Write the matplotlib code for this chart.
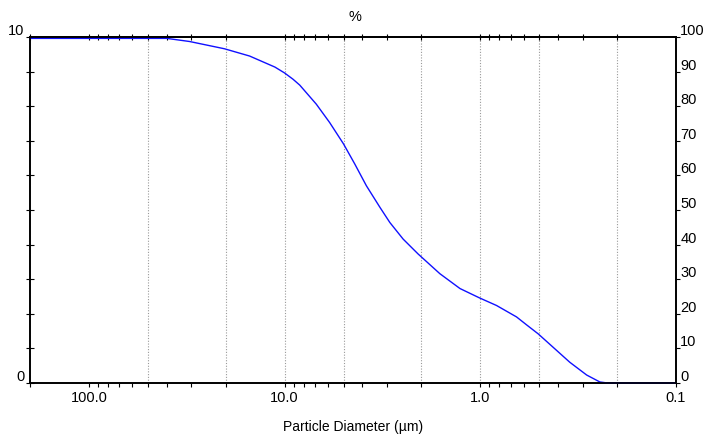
import matplotlib
matplotlib.use("Agg")
import matplotlib.pyplot as plt
from matplotlib.ticker import FixedLocator, FixedFormatter, NullFormatter

plt.rcParams['font.family'] = ['Liberation Sans', 'DejaVu Sans']

# Data: particle diameter (um) vs cumulative undersize (%)
diameter = [200, 40, 30.6, 20.3, 15.1, 11.2, 10.0, 9.06, 8.37, 6.89, 5.89,
            5.0, 4.38, 3.82, 3.26, 2.90, 2.48, 2.08, 1.61, 1.27,
            1.01, 0.826, 0.653, 0.580, 0.506, 0.424, 0.349, 0.286, 0.245, 0.224, 0.1]
cumulative = [99.6, 99.6, 98.7, 96.6, 94.5, 91.3, 89.6, 87.8, 86.1, 80.6, 75.3,
              69.1, 63.3, 57.0, 50.8, 46.4, 41.6, 37.3, 31.6, 27.3,
              24.6, 22.4, 19.1, 16.8, 14.2, 10.3, 6.0, 2.3, 0.3, 0.0, 0.0]

x_major = [100, 10, 1, 0.1]
x_major_labels = ['100.0', '10.0', '1.0', '0.1']
grid_x = [50, 20, 10, 5, 2, 1, 0.5, 0.2]
left_ticks = list(range(0, 11))
right_ticks = list(range(0, 101, 10))

fig = plt.figure(figsize=(7.08, 4.39), dpi=100)
ax = fig.add_axes([30/708, 1-384/439, (676-30)/708, (384-38)/439])
ax.set_xscale('log')
ax.set_xlim(200, 0.1)
ax.set_ylim(0, 10)

for g in grid_x:
    ax.axvline(g, color='#9a9a9a', linestyle=(0, (1, 1.5)), linewidth=0.8, zorder=0)

minor = []
for dec in [0.1, 1, 10, 100]:
    for m in range(2, 10):
        v = dec * m
        if v <= 200:
            minor.append(v)

ax.xaxis.set_major_locator(FixedLocator(x_major))
ax.xaxis.set_major_formatter(FixedFormatter(x_major_labels))
ax.xaxis.set_minor_locator(FixedLocator(minor))
ax.xaxis.set_minor_formatter(NullFormatter())
ax.tick_params(axis='x', which='major', direction='out', length=3, width=0.8,
               labelsize=10.5, pad=2, bottom=True, top=False)
ax.tick_params(axis='x', which='minor', direction='out', length=3, width=0.8,
               bottom=True, top=False)

sec = ax.secondary_xaxis('top')
sec.xaxis.set_major_locator(FixedLocator([100, 10, 1] + minor))
sec.xaxis.set_major_formatter(NullFormatter())
sec.xaxis.set_minor_locator(FixedLocator([]))
sec.tick_params(axis='x', which='major', direction='inout', length=4, width=0.8)
sec.spines['top'].set_linewidth(1.2)

ax.yaxis.set_major_locator(FixedLocator(left_ticks))
ax.yaxis.set_major_formatter(FixedFormatter(['0'] + [''] * 9 + ['10']))
ax.tick_params(axis='y', which='major', direction='inout', length=6, width=0.8,
               labelsize=10.5, pad=1)
for lab in ax.get_yticklabels():
    lab.set_verticalalignment('bottom')

for s in ax.spines.values():
    s.set_linewidth(1.2)

ax2 = ax.twinx()
ax2.set_ylim(0, 100)
ax2.yaxis.set_major_locator(FixedLocator(right_ticks))
ax2.yaxis.set_major_formatter(FixedFormatter([str(t) for t in right_ticks]))
ax2.tick_params(axis='y', direction='out', length=3, width=0.8, labelsize=10.5, pad=0)
for lab in ax2.get_yticklabels():
    lab.set_verticalalignment('bottom')
for s in ax2.spines.values():
    s.set_linewidth(1.2)

ax2.plot(diameter, cumulative, color='#1010ff', linewidth=1.0, clip_on=False)

fig.text(355/708, 1-17/439, '%', ha='center', va='center', fontsize=10.5)
fig.text(353/708, 1-427/439, 'Particle Diameter (\u00b5m)', ha='center', va='center', fontsize=10)

fig.savefig('out.png', dpi=100)
